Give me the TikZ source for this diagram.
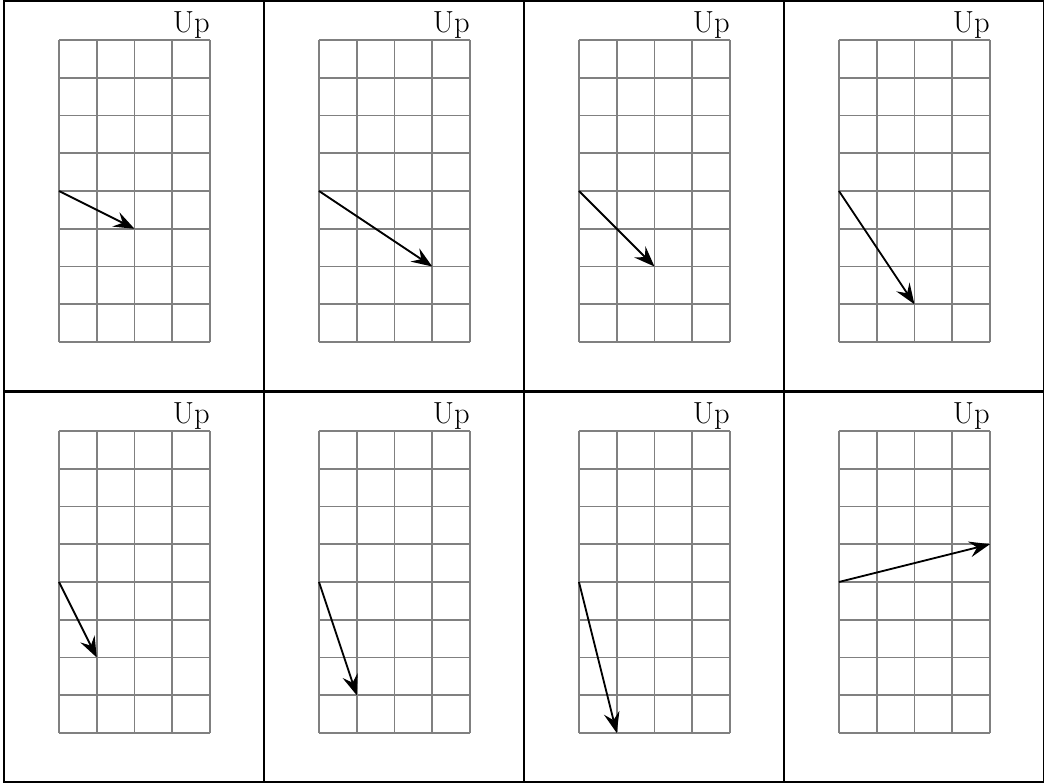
\documentclass[tikz,border=0pt]{standalone}
\usetikzlibrary{arrows.meta}
\begin{document}
\begin{tikzpicture}[panel/.style={draw, line width=1.6pt}, gridlines/.style={draw=gray, line width=1.3pt}, arrow/.style={-{Stealth[length=5.5mm, width=4.2mm, inset=2mm]}, line width=1.4pt}, uptext/.style={anchor=base east, inner sep=0pt, font=\fontsize{23}{27}\selectfont}]
\useasboundingbox (0,0) rectangle (27.656,20.768);
\foreach \col/\row/\ex/\ey [count=\i] in {0/0/2/3, 1/0/3/2, 2/0/2/2, 3/0/2/1, 0/1/1/2, 1/1/1/1, 2/1/1/0, 3/1/4/5} {
\begin{scope}[shift={(1.563+6.887*\col, 11.708-10.357*\row)}]
\draw[panel] (-1.457,-1.298) rectangle (5.43,9.03);
\draw[gridlines] (0,0) grid (4,8);
\node[uptext] (up\i) at (4,8.19) {Up};
\coordinate (start\i) at (0,4);
\coordinate (end\i) at (\ex,\ey);
\draw[arrow] (start\i) -- (end\i);
\end{scope}
}
\end{tikzpicture}
\end{document}
